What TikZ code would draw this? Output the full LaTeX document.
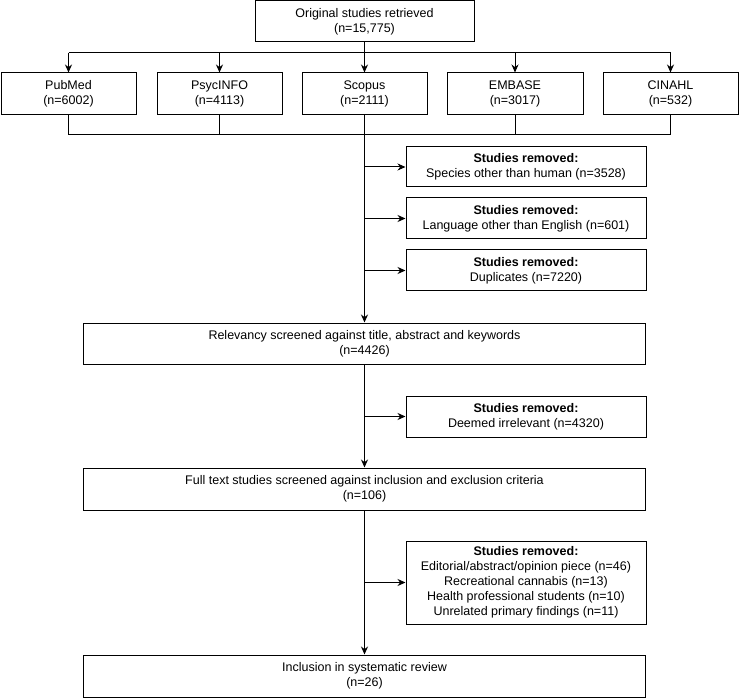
\documentclass[tikz,border=0pt]{standalone}
\usepackage{fontspec}
\setmainfont{Liberation Sans}
\usetikzlibrary{arrows.meta}
\tikzset{
  box/.style={draw, line width=1pt, minimum height=41pt, align=center, inner sep=0pt},
  arr/.style={-{Stealth[length=8pt,width=7pt]}}
}
\begin{document}
\begin{tikzpicture}[x=1pt,y=-1pt,line width=1pt,font=\fontsize{12.5}{15}\selectfont]
		\useasboundingbox (0,0) rectangle (740,698);
		\node[box,minimum width=219pt](top) at (364.5,21.5){Original studies retrieved\\(n=15,775)};
		\node[box,minimum width=135pt,minimum height=42pt](pub) at (68.5,94){PubMed\\(n=6002)};
		\node[box,minimum width=125pt,minimum height=42pt](psy) at (219.5,94){PsycINFO\\(n=4113)};
		\node[box,minimum width=125pt,minimum height=42pt](sco) at (364.5,94){Scopus\\(n=2111)};
		\node[box,minimum width=136pt,minimum height=42pt](emb) at (515,94){EMBASE\\(n=3017)};
		\node[box,minimum width=135pt,minimum height=42pt](cin) at (670.5,94){CINAHL\\(n=532)};
		\node[box,minimum width=240pt,minimum height=40pt](rem1) at (526,167){\textbf{Studies removed:}\\Species other than human (n=3528)};
		\node[box,minimum width=240pt](rem2) at (526,218.5){\textbf{Studies removed:}\\Language other than English (n=601)};
		\node[box,minimum width=240pt](rem3) at (526,270.5){\textbf{Studies removed:}\\Duplicates (n=7220)};
		\node[box,minimum width=562pt](rel) at (364.5,343.5){Relevancy screened against title, abstract and keywords\\(n=4426)};
		\node[box,minimum width=240pt](rem4) at (526,416.5){\textbf{Studies removed:}\\Deemed irrelevant (n=4320)};
		\node[box,minimum width=562pt,minimum height=42pt](full) at (364.5,489){Full text studies screened against inclusion and exclusion criteria\\(n=106)};
		\node[box,minimum width=240pt,minimum height=83pt](rem5) at (526,582.5){\textbf{Studies removed:}\\Editorial/abstract/opinion piece (n=46)\\Recreational cannabis (n=13)\\Health professional students (n=10)\\Unrelated primary findings (n=11)};
		\node[box,minimum width=562pt,minimum height=42pt](incl) at (364.5,676){Inclusion in systematic review\\(n=26)};
		\coordinate(bar) at (0,53);
		\coordinate(col) at (0,135);
		% split to the databases
		\draw(top.south)--(top.south |- bar);
		\draw(pub.north |- bar)--(cin.north |- bar);
		\foreach \n in {pub,psy,sco,emb,cin}
			\draw[arr](\n.north |- bar)--(\n.north);
		% join again
		\foreach \n in {pub,psy,emb,cin}
			\draw(\n.south)--(\n.south |- col);
		\draw(pub.south |- col)--(cin.south |- col);
		\draw[arr](sco.south)--(rel.north);
		\draw[arr](rel.south)--(full.north);
		\draw[arr](full.south)--(incl.north);
		\foreach \r in {rem1,rem2,rem3}
			\draw[arr](sco.south |- \r.west)--(\r.west);
		\draw[arr](rel.south |- rem4.west)--(rem4.west);
		\draw[arr](full.south |- rem5.west)--(rem5.west);
	    \end{tikzpicture}
\end{document}
